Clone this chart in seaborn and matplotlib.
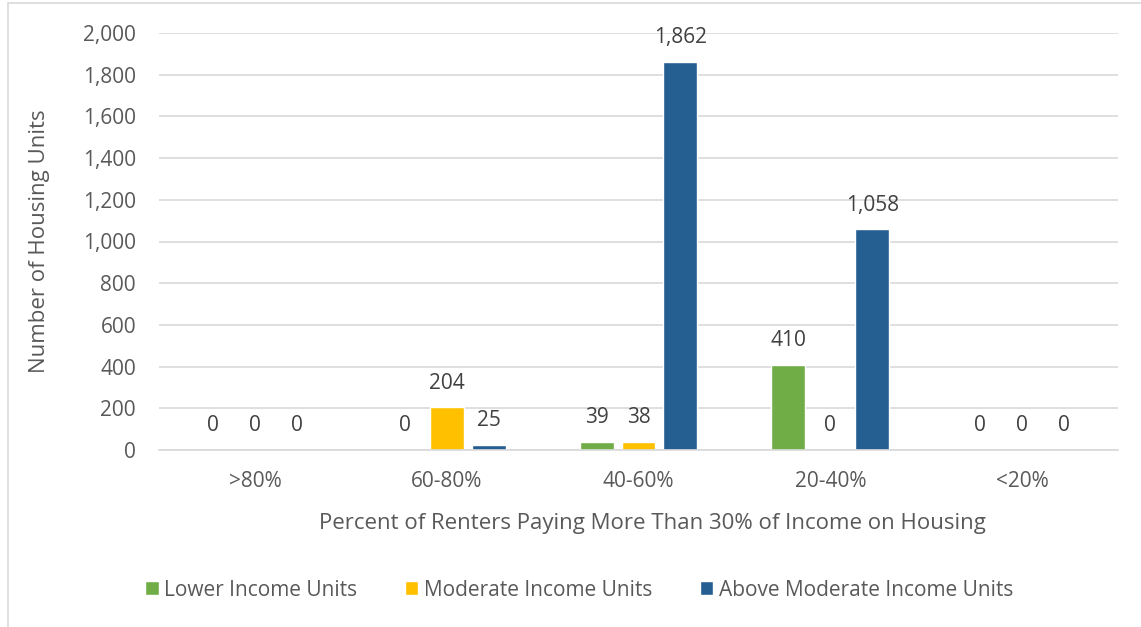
import matplotlib
matplotlib.use("Agg")
import matplotlib.pyplot as plt
import seaborn as sns
import pandas as pd
from matplotlib.patches import Rectangle

categories = [">80%", "60-80%", "40-60%", "20-40%", "<20%"]
series = ["Lower Income Units", "Moderate Income Units", "Above Moderate Income Units"]
lower_income = [0, 0, 39, 410, 0]
moderate_income = [0, 204, 38, 0, 0]
above_moderate = [0, 25, 1862, 1058, 0]
y_ticks = list(range(0, 2001, 200))

colors = ["#70AD47", "#FFC000", "#255E91"]

df = pd.DataFrame({
    "category": categories * 3,
    "series": [series[0]] * 5 + [series[1]] * 5 + [series[2]] * 5,
    "value": lower_income + moderate_income + above_moderate,
})

sns.set_theme(style="white")
plt.rcParams["font.family"] = ["Open Sans", "DejaVu Sans"]

fig = plt.figure(figsize=(11.41, 6.27), dpi=100)
ax = fig.add_axes([159 / 1141, 1 - 450 / 627, (1118 - 159) / 1141, (450 - 33) / 627])

sns.barplot(data=df, x="category", y="value", hue="series", order=categories,
            hue_order=series, palette=colors, width=0.656, gap=0.19,
            saturation=1, ax=ax, legend=True)

ax.set_ylim(0, 2000)
ax.set_yticks(y_ticks)
ax.set_yticklabels([f"{v:,}" for v in y_ticks])
ax.yaxis.grid(True, color="#D9D9D9", linewidth=1.2)
ax.set_axisbelow(True)
for s in ["top", "right", "left"]:
    ax.spines[s].set_visible(False)
ax.spines["bottom"].set_color("#D9D9D9")
ax.spines["bottom"].set_linewidth(1.2)
ax.tick_params(axis="both", length=0, labelsize=15, labelcolor="#595959")
ax.tick_params(axis="y", pad=16.5)
ax.tick_params(axis="x", pad=15)

for container in ax.containers:
    ax.bar_label(container, labels=[f"{v:,.0f}" for v in container.datavalues],
                 padding=10, fontsize=15, color="#404040")

ax.set_xlabel("Percent of Renters Paying More Than 30% of Income on Housing",
              fontsize=16, color="#595959", labelpad=15)
ax.xaxis.label.set_x(0.515)
ax.set_ylabel("Number of Housing Units", fontsize=16, color="#595959", labelpad=24)

handles, labels = ax.get_legend_handles_labels()
ax.legend(handles, labels, loc="center", bbox_to_anchor=(0.438, -0.336), ncol=3,
          frameon=False, fontsize=15, labelcolor="#595959", handlelength=0.65,
          handleheight=0.65, handletextpad=0.25, columnspacing=2.3)

fig.patches.append(Rectangle((8 / 1141, -0.1), 1.2, 1 - 3 / 627 + 0.1,
                             transform=fig.transFigure, fill=False,
                             edgecolor="#D9D9D9", linewidth=1.2))

fig.savefig("out.png", dpi=100)
